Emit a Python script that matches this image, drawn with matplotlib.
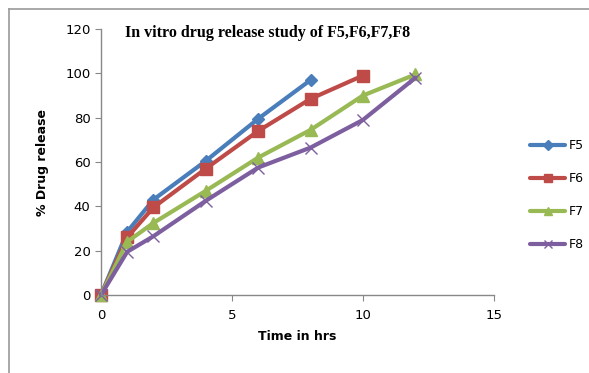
import matplotlib
matplotlib.use("Agg")
import matplotlib.pyplot as plt
from matplotlib.lines import Line2D

# Dissolution time points (hours) and cumulative % drug release
time_f5 = [0, 1, 2, 4, 6, 8]
f5 = [0, 28.5, 43, 60.5, 79.5, 97]

time_f6 = [0, 1, 2, 4, 6, 8, 10]
f6 = [0, 26, 39.5, 57, 74, 88.5, 99]

time_f7 = [0, 1, 2, 4, 6, 8, 10, 12]
f7 = [0, 24, 32.5, 47, 62, 74.5, 90, 99.5]

time_f8 = [0, 1, 2, 4, 6, 8, 10, 12]
f8 = [0, 19.5, 26.5, 42.5, 57.5, 66.5, 79, 98]

labels = ["F5", "F6", "F7", "F8"]
x_ticks = [0, 5, 10, 15]
y_ticks = [0, 20, 40, 60, 80, 100, 120]

W, H = 589, 373
fig = plt.figure(figsize=(W / 100, H / 100), dpi=100)
ax = fig.add_axes([101 / W, 1 - 295 / H, (494 - 101) / W, (295 - 29) / H])

styles = [
    dict(color="#4a7ebb", marker="D", markersize=6),
    dict(color="#be4b48", marker="s", markersize=8),
    dict(color="#98b954", marker="^", markersize=8),
    dict(color="#7d5fa0", marker="x", markersize=8, markeredgewidth=1.0),
]
series = [(time_f5, f5), (time_f6, f6), (time_f7, f7), (time_f8, f8)]

handles = []
for (t, y), lab, st in zip(series, labels, styles):
    ln, = ax.plot(t, y, linewidth=3, label=lab, solid_capstyle="round", **st)
    handles.append(ln)

ax.set_xlim(0, 15)
ax.set_ylim(0, 120)
ax.set_xticks(x_ticks)
ax.set_yticks(y_ticks)
for s in ["top", "right"]:
    ax.spines[s].set_visible(False)
for s in ["left", "bottom"]:
    ax.spines[s].set_color("#888888")
    ax.spines[s].set_linewidth(1.0)
ax.tick_params(axis="both", colors="#888888", labelcolor="black",
               labelsize=9.5, length=4, direction="out")
ax.tick_params(axis="x", pad=6)
for lbl in ax.get_xticklabels() + ax.get_yticklabels():
    lbl.set_family("DejaVu Sans")
for m in ax.lines:
    m.set_clip_on(False)

ax.set_xlabel("Time in hrs", fontsize=9, fontweight="bold", labelpad=6)
ax.set_ylabel("% Drug release", fontsize=9, fontweight="bold", labelpad=12)

fig.text(125 / W, 1 - 33 / H, "In vitro drug release study of F5,F6,F7,F8",
         fontsize=11.5, fontweight="bold", family="Liberation Serif",
         va="center", ha="left")

fig.legend(handles=handles, labels=labels, loc="center left",
           bbox_to_anchor=(519 / W, 1 - 195 / H), frameon=False,
           fontsize=9, handlelength=2.8, labelspacing=1.6, handletextpad=0.3,
           markerscale=0.8)

# frame around the chart area
fig.add_artist(Line2D([9 / W, 1], [1 - 9 / H, 1 - 9 / H], color="#999999",
                      linewidth=1.2, transform=fig.transFigure))
fig.add_artist(Line2D([9 / W, 9 / W], [0, 1 - 9 / H], color="#999999",
                      linewidth=1.2, transform=fig.transFigure))

fig.savefig("out.png", dpi=100)
